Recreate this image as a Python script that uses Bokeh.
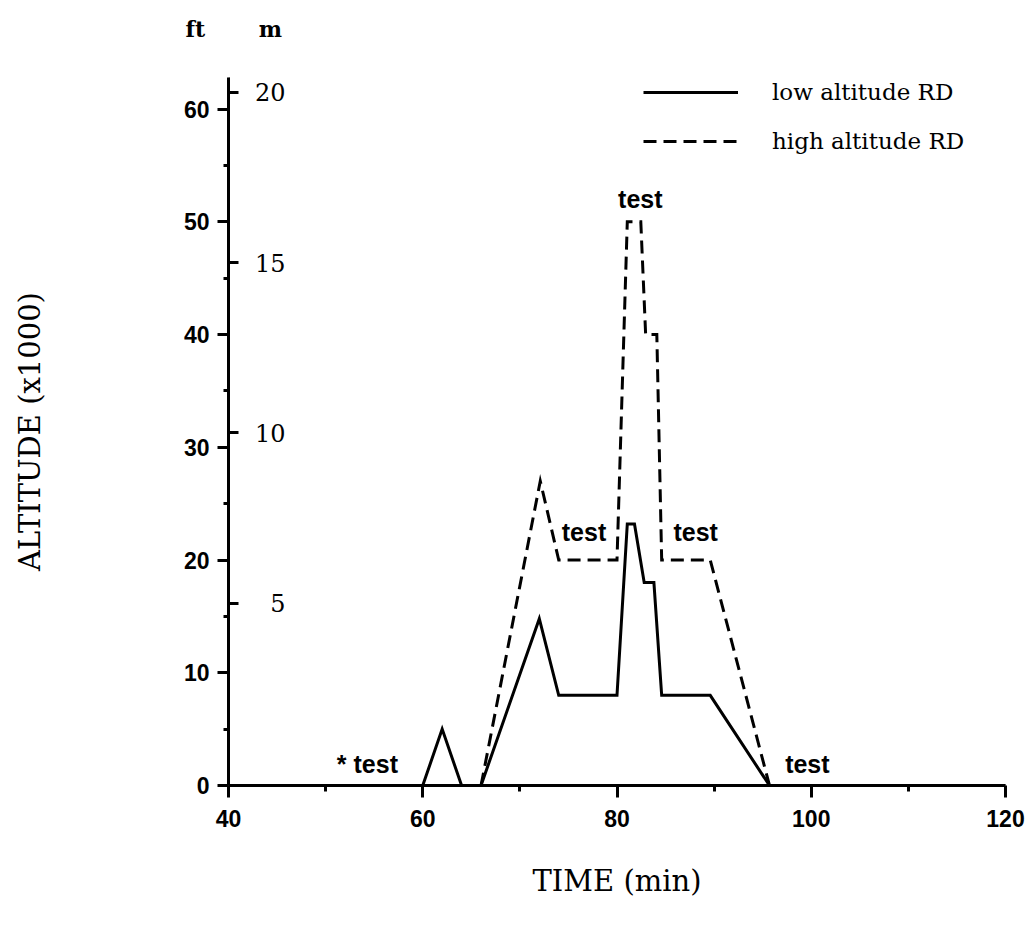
from bokeh.plotting import figure
from bokeh.models import (Range1d, LinearAxis, FixedTicker,
                          Legend, LegendItem, ColumnDataSource)
from bokeh.core.properties import value
from bokeh.embed import file_html
from bokeh.resources import INLINE

# ---- data ----
low_time = [40, 60, 62, 64, 66, 72, 74, 80, 81.06, 81.8, 82.8, 83.8, 84.6, 89.6, 95.7, 120]
low_alt = [0, 0, 5, 0, 0, 14.8, 8, 8, 23.2, 23.2, 18, 18, 8, 8, 0, 0]

high_time = [66, 72.1, 74, 80, 81.06, 82.45, 82.95, 84.1, 84.6, 89.6, 95.7]
high_alt = [0, 27, 20, 20, 50, 50, 40, 40, 20, 20, 0]

ft_ticks = [0, 10, 20, 30, 40, 50, 60]
ft_minor = [5, 15, 25, 35, 45, 55]
m_ticks = [5, 10, 15, 20]
x_ticks = [40, 60, 80, 100, 120]
x_minor = [50, 70, 90, 110]

test_time = [54.3, 76.6, 82.4, 88.1, 99.6]
test_alt = [1.9, 22.5, 52.0, 22.5, 1.9]
test_text = ["* test", "test", "test", "test", "test"]

SERIF = "DejaVu Serif"
SANS = "Liberation Sans"

p = figure(width=1027, height=934,
           x_range=Range1d(40, 120), y_range=Range1d(0, 62.8),
           output_backend="svg", toolbar_location=None,
           min_border_left=228, min_border_right=22,
           min_border_top=77, min_border_bottom=149)
p.extra_y_ranges = {"m": Range1d(-0.344, 20.43)}
p.outline_line_color = None
p.xgrid.visible = False
p.ygrid.visible = False
p.background_fill_color = "white"

# unit labels above the two scales (second, empty line lifts them up)
p.title.text = "ft" + "\u00a0" * 7 + "m\n\u00a0"
p.title.align = "left"
p.title.offset = -43
p.title.standoff = 20
p.title.text_font = SERIF
p.title.text_font_style = "bold"
p.title.text_font_size = "22px"
p.title.text_color = "black"

# x axis
xa = p.xaxis[0]
xa.ticker = FixedTicker(ticks=x_ticks, minor_ticks=x_minor)
xa.axis_line_width = 3
xa.major_tick_line_width = 3
xa.minor_tick_line_width = 3
xa.major_tick_out = 12
xa.major_tick_in = 0
xa.minor_tick_out = 6
xa.minor_tick_in = 0
xa.major_label_standoff = 12
xa.major_label_text_font = SANS
xa.major_label_text_font_style = "bold"
xa.major_label_text_font_size = "23px"
xa.major_label_text_color = "black"
xa.axis_label = "TIME (min)"
xa.axis_label_text_font = SERIF
xa.axis_label_text_font_style = "normal"
xa.axis_label_text_font_size = "29px"
xa.axis_label_text_color = "black"
xa.axis_label_standoff = 34

# ft axis
ya = p.yaxis[0]
ya.ticker = FixedTicker(ticks=ft_ticks, minor_ticks=ft_minor)
ya.axis_line_width = 3
ya.major_tick_line_width = 3
ya.minor_tick_line_width = 3
ya.major_tick_out = 11
ya.major_tick_in = 0
ya.minor_tick_out = 5
ya.minor_tick_in = 0
ya.major_label_standoff = 8
ya.major_label_text_font = SANS
ya.major_label_text_font_style = "bold"
ya.major_label_text_font_size = "23px"
ya.major_label_text_color = "black"
ya.axis_label = "ALTITUDE (x1000)"
ya.axis_label_text_font = SERIF
ya.axis_label_text_font_style = "normal"
ya.axis_label_text_font_size = "29px"
ya.axis_label_text_color = "black"
ya.axis_label_standoff = 134

# m axis, on the same line, ticks and labels inside
ma = LinearAxis(y_range_name="m", ticker=FixedTicker(ticks=m_ticks, minor_ticks=[]),
                fixed_location=40)
ma.axis_line_width = 3
ma.major_tick_line_width = 3
ma.major_tick_in = 10
ma.major_tick_out = 0
ma.minor_tick_in = 0
ma.minor_tick_out = 0
ma.major_label_standoff = -57
ma.major_label_text_font = SERIF
ma.major_label_text_font_size = "24px"
ma.major_label_text_color = "black"
p.add_layout(ma, "left")

# lines
src_low = ColumnDataSource(dict(t=low_time, a=low_alt))
src_high = ColumnDataSource(dict(t=high_time, a=high_alt))
r_low = p.line("t", "a", source=src_low, line_color="black", line_width=3,
               line_join="miter")
r_high = p.line("t", "a", source=src_high, line_color="black", line_width=3,
                line_dash="13 7", line_join="miter")

# "test" annotations
p.text(x=test_time, y=test_alt, text=test_text, text_font=value(SANS),
       text_font_style="bold", text_font_size="25px", text_align="center",
       text_baseline="middle", text_color="black")

legend = Legend(items=[LegendItem(label="low altitude RD", renderers=[r_low]),
                       LegendItem(label="high altitude RD", renderers=[r_high])],
                location=(415, 631), glyph_width=95, glyph_height=24, label_height=24,
                label_standoff=34, spacing=23, padding=0, margin=0,
                border_line_alpha=0, background_fill_alpha=0,
                label_text_font=SERIF, label_text_font_size="23px",
                label_text_color="black")
p.add_layout(legend)

open("out.html", "w").write(file_html(p, INLINE))
